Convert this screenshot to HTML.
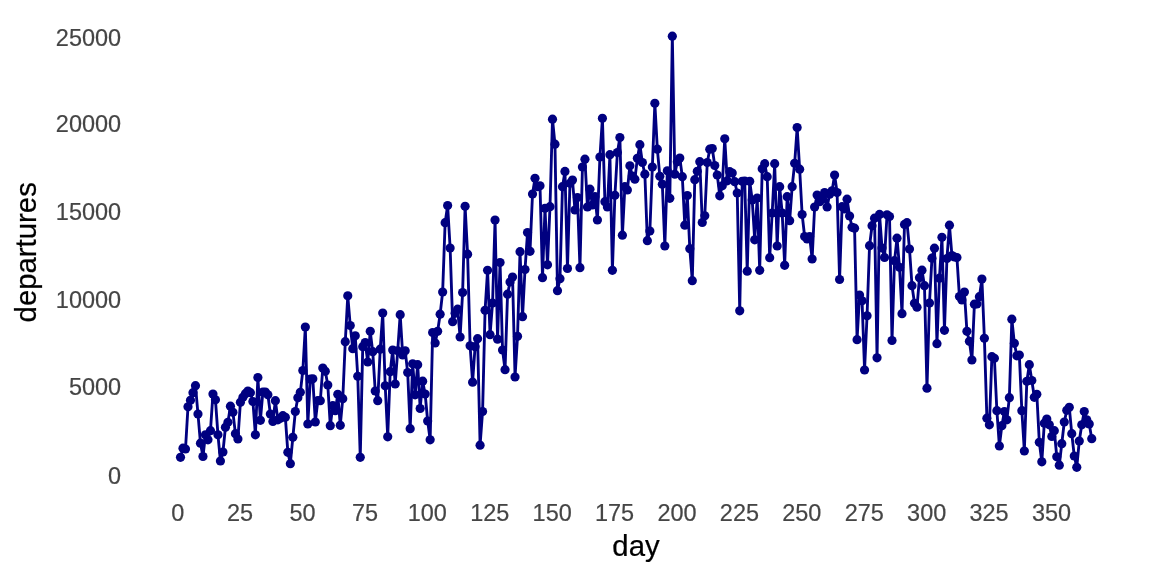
<!DOCTYPE html>
<html><head><meta charset="utf-8"><title>departures by day</title>
<style>
html,body{margin:0;padding:0;background:#fff;}
body{width:1152px;height:576px;overflow:hidden;}
svg{display:block;}
text{font-family:"Liberation Sans",Arial,sans-serif;}
.tick text{font-size:23.47px;fill:#454545;stroke:#454545;stroke-width:0.2px;}
.title{font-size:29.33px;fill:#000;stroke:#000;stroke-width:0.22px;}
</style></head><body>
<svg width="1152" height="576" viewBox="0 0 1152 576">
<rect width="1152" height="576" fill="#fff"/>
<g class="tick"><text x="121.1" y="483.60" text-anchor="end">0</text><text x="121.1" y="394.90" text-anchor="end">5000</text><text x="121.1" y="308.30" text-anchor="end">10000</text><text x="121.1" y="219.80" text-anchor="end">15000</text><text x="121.1" y="132.00" text-anchor="end">20000</text><text x="121.1" y="45.60" text-anchor="end">25000</text><text x="177.70" y="520.6" text-anchor="middle">0</text><text x="240.11" y="520.6" text-anchor="middle">25</text><text x="302.53" y="520.6" text-anchor="middle">50</text><text x="364.94" y="520.6" text-anchor="middle">75</text><text x="427.36" y="520.6" text-anchor="middle">100</text><text x="489.77" y="520.6" text-anchor="middle">125</text><text x="552.19" y="520.6" text-anchor="middle">150</text><text x="614.60" y="520.6" text-anchor="middle">175</text><text x="677.01" y="520.6" text-anchor="middle">200</text><text x="739.43" y="520.6" text-anchor="middle">225</text><text x="801.84" y="520.6" text-anchor="middle">250</text><text x="864.26" y="520.6" text-anchor="middle">275</text><text x="926.67" y="520.6" text-anchor="middle">300</text><text x="989.09" y="520.6" text-anchor="middle">325</text><text x="1051.50" y="520.6" text-anchor="middle">350</text></g>
<text class="title" x="636" y="555.5" text-anchor="middle">day</text>
<text class="title" transform="translate(36,252.3) rotate(-90)" text-anchor="middle">departures</text>
<polyline fill="none" stroke="#000080" stroke-width="2.85" stroke-linejoin="round" stroke-linecap="butt" points="180.50,457.30 182.99,448.20 185.49,449.00 187.99,406.80 190.48,400.30 192.98,392.70 195.48,385.70 197.97,414.00 200.47,443.20 202.97,456.50 205.46,434.80 207.96,439.80 210.46,430.70 212.95,394.00 215.45,399.80 217.95,434.80 220.44,461.00 222.94,452.00 225.43,427.30 227.93,422.30 230.43,406.20 232.92,412.30 235.42,433.70 237.92,439.00 240.41,402.30 242.91,397.30 245.41,393.70 247.90,391.00 250.40,392.70 252.90,401.50 255.39,434.80 257.89,377.50 260.39,420.30 262.88,392.00 265.38,392.00 267.88,394.80 270.37,414.00 272.87,421.50 275.37,400.70 277.86,419.80 280.36,418.20 282.86,415.70 285.35,417.30 287.85,452.30 290.35,463.70 292.84,437.30 295.34,411.50 297.84,397.70 300.33,392.30 302.83,370.50 305.33,327.00 307.82,424.00 310.32,379.20 312.81,378.80 315.31,422.00 317.81,400.70 320.30,400.70 322.80,368.00 325.30,371.30 327.79,385.00 330.29,425.70 332.79,405.70 335.28,410.70 337.78,394.30 340.28,425.30 342.77,398.70 345.27,341.70 347.77,295.80 350.26,325.50 352.76,348.70 355.26,335.80 357.75,376.30 360.25,457.30 362.75,346.70 365.24,342.50 367.74,362.00 370.24,331.30 372.73,351.70 375.23,391.00 377.73,400.70 380.22,349.20 382.72,313.00 385.22,385.80 387.71,436.80 390.21,371.70 392.71,350.00 395.20,384.00 397.70,350.80 400.19,314.70 402.69,355.00 405.19,350.80 407.68,372.50 410.18,428.70 412.68,363.80 415.17,394.80 417.67,364.70 420.17,408.50 422.66,381.20 425.16,394.00 427.66,421.00 430.15,439.80 432.65,332.50 435.15,343.00 437.64,331.30 440.14,314.20 442.64,292.00 445.13,222.70 447.63,205.50 450.13,248.00 452.62,321.70 455.12,313.30 457.62,309.20 460.11,337.00 462.61,292.50 465.11,206.30 467.60,254.20 470.10,345.80 472.60,382.20 475.09,346.70 477.59,338.70 480.09,445.20 482.58,411.50 485.08,310.30 487.57,270.30 490.07,334.70 492.57,303.00 495.06,220.00 497.56,339.20 500.06,262.50 502.55,350.00 505.05,369.70 507.55,294.20 510.04,282.00 512.54,277.00 515.04,377.00 517.53,336.30 520.03,251.70 522.53,316.70 525.02,269.50 527.52,232.50 530.02,251.30 532.51,194.00 535.01,178.30 537.51,186.70 540.00,185.80 542.50,277.70 545.00,208.30 547.49,264.80 549.99,206.70 552.49,119.20 554.98,144.20 557.48,290.70 559.98,278.70 562.47,186.70 564.97,171.40 567.47,268.50 569.96,183.30 572.46,180.00 574.95,210.00 577.45,197.50 579.95,267.70 582.44,167.00 584.94,159.20 587.44,207.00 589.93,189.20 592.43,205.00 594.93,196.70 597.42,220.00 599.92,157.00 602.42,118.30 604.91,201.70 607.41,207.00 609.91,154.70 612.40,270.30 614.90,195.30 617.40,152.50 619.89,137.50 622.39,235.20 624.89,186.70 627.38,190.00 629.88,165.80 632.38,176.00 634.87,179.20 637.37,158.30 639.87,144.70 642.36,162.50 644.86,174.20 647.36,240.70 649.85,231.00 652.35,167.00 654.85,103.30 657.34,149.20 659.84,176.30 662.33,184.20 664.83,246.00 667.33,170.80 669.82,198.30 672.32,36.20 674.82,174.20 677.31,161.70 679.81,158.00 682.31,176.70 684.80,225.20 687.30,195.50 689.80,248.70 692.29,280.70 694.79,179.70 697.29,171.30 699.78,161.70 702.28,222.50 704.78,215.80 707.27,162.50 709.77,149.20 712.27,148.50 714.76,165.50 717.26,175.00 719.76,195.80 722.25,185.80 724.75,138.80 727.25,180.80 729.74,171.70 732.24,173.00 734.74,181.70 737.23,193.00 739.73,310.80 742.23,181.30 744.72,181.00 747.22,271.20 749.71,181.30 752.21,200.00 754.71,239.80 757.20,198.00 759.70,270.30 762.20,168.80 764.69,163.70 767.19,176.70 769.69,257.70 772.18,213.00 774.68,163.70 777.18,246.00 779.67,186.70 782.17,213.00 784.67,265.30 787.16,196.70 789.66,220.70 792.16,186.70 794.65,163.30 797.15,127.50 799.65,169.20 802.14,214.50 804.64,236.50 807.14,239.00 809.63,236.50 812.13,259.00 814.63,207.00 817.12,195.00 819.62,201.70 822.12,199.00 824.61,192.50 827.11,207.00 829.61,194.20 832.10,190.80 834.60,175.00 837.09,192.50 839.59,279.50 842.09,206.70 844.58,209.00 847.08,199.20 849.58,216.00 852.07,227.30 854.57,228.20 857.07,339.70 859.56,295.00 862.06,300.80 864.56,370.00 867.05,315.80 869.55,245.70 872.05,225.70 874.54,218.20 877.04,357.80 879.54,214.40 882.03,248.00 884.53,257.50 887.03,214.80 889.52,216.50 892.02,340.50 894.52,260.70 897.01,238.20 899.51,267.30 902.01,313.70 904.50,224.40 907.00,222.70 909.50,249.00 911.99,285.70 914.49,303.30 916.99,307.20 919.48,277.70 921.98,270.20 924.47,285.70 926.97,388.20 929.47,303.00 931.96,258.20 934.46,248.20 936.96,343.70 939.45,278.20 941.95,237.30 944.45,330.30 946.94,258.50 949.44,225.20 951.94,255.50 954.43,257.00 956.93,257.60 959.43,296.60 961.92,300.00 964.42,292.00 966.92,331.30 969.41,341.30 971.91,360.00 974.41,304.20 976.90,304.00 979.40,296.70 981.90,279.00 984.39,338.30 986.89,418.20 989.39,424.80 991.88,356.70 994.38,358.30 996.88,410.70 999.37,446.00 1001.87,425.70 1004.37,411.50 1006.86,419.80 1009.36,397.70 1011.85,319.20 1014.35,343.30 1016.85,355.80 1019.34,355.00 1021.84,410.70 1024.34,451.00 1026.83,381.30 1029.33,364.70 1031.83,380.50 1034.32,397.30 1036.82,394.30 1039.32,442.30 1041.81,461.80 1044.31,423.20 1046.81,419.00 1049.30,424.80 1051.80,436.50 1054.30,430.70 1056.79,456.80 1059.29,465.20 1061.79,443.70 1064.28,422.00 1066.78,410.30 1069.28,407.30 1071.77,433.70 1074.27,456.00 1076.77,467.30 1079.26,441.00 1081.76,424.80 1084.26,411.50 1086.75,419.80 1089.25,424.00 1091.75,438.70"/>
<g fill="#000080"><circle cx="180.50" cy="457.30" r="4.6"/><circle cx="182.99" cy="448.20" r="4.6"/><circle cx="185.49" cy="449.00" r="4.6"/><circle cx="187.99" cy="406.80" r="4.6"/><circle cx="190.48" cy="400.30" r="4.6"/><circle cx="192.98" cy="392.70" r="4.6"/><circle cx="195.48" cy="385.70" r="4.6"/><circle cx="197.97" cy="414.00" r="4.6"/><circle cx="200.47" cy="443.20" r="4.6"/><circle cx="202.97" cy="456.50" r="4.6"/><circle cx="205.46" cy="434.80" r="4.6"/><circle cx="207.96" cy="439.80" r="4.6"/><circle cx="210.46" cy="430.70" r="4.6"/><circle cx="212.95" cy="394.00" r="4.6"/><circle cx="215.45" cy="399.80" r="4.6"/><circle cx="217.95" cy="434.80" r="4.6"/><circle cx="220.44" cy="461.00" r="4.6"/><circle cx="222.94" cy="452.00" r="4.6"/><circle cx="225.43" cy="427.30" r="4.6"/><circle cx="227.93" cy="422.30" r="4.6"/><circle cx="230.43" cy="406.20" r="4.6"/><circle cx="232.92" cy="412.30" r="4.6"/><circle cx="235.42" cy="433.70" r="4.6"/><circle cx="237.92" cy="439.00" r="4.6"/><circle cx="240.41" cy="402.30" r="4.6"/><circle cx="242.91" cy="397.30" r="4.6"/><circle cx="245.41" cy="393.70" r="4.6"/><circle cx="247.90" cy="391.00" r="4.6"/><circle cx="250.40" cy="392.70" r="4.6"/><circle cx="252.90" cy="401.50" r="4.6"/><circle cx="255.39" cy="434.80" r="4.6"/><circle cx="257.89" cy="377.50" r="4.6"/><circle cx="260.39" cy="420.30" r="4.6"/><circle cx="262.88" cy="392.00" r="4.6"/><circle cx="265.38" cy="392.00" r="4.6"/><circle cx="267.88" cy="394.80" r="4.6"/><circle cx="270.37" cy="414.00" r="4.6"/><circle cx="272.87" cy="421.50" r="4.6"/><circle cx="275.37" cy="400.70" r="4.6"/><circle cx="277.86" cy="419.80" r="4.6"/><circle cx="280.36" cy="418.20" r="4.6"/><circle cx="282.86" cy="415.70" r="4.6"/><circle cx="285.35" cy="417.30" r="4.6"/><circle cx="287.85" cy="452.30" r="4.6"/><circle cx="290.35" cy="463.70" r="4.6"/><circle cx="292.84" cy="437.30" r="4.6"/><circle cx="295.34" cy="411.50" r="4.6"/><circle cx="297.84" cy="397.70" r="4.6"/><circle cx="300.33" cy="392.30" r="4.6"/><circle cx="302.83" cy="370.50" r="4.6"/><circle cx="305.33" cy="327.00" r="4.6"/><circle cx="307.82" cy="424.00" r="4.6"/><circle cx="310.32" cy="379.20" r="4.6"/><circle cx="312.81" cy="378.80" r="4.6"/><circle cx="315.31" cy="422.00" r="4.6"/><circle cx="317.81" cy="400.70" r="4.6"/><circle cx="320.30" cy="400.70" r="4.6"/><circle cx="322.80" cy="368.00" r="4.6"/><circle cx="325.30" cy="371.30" r="4.6"/><circle cx="327.79" cy="385.00" r="4.6"/><circle cx="330.29" cy="425.70" r="4.6"/><circle cx="332.79" cy="405.70" r="4.6"/><circle cx="335.28" cy="410.70" r="4.6"/><circle cx="337.78" cy="394.30" r="4.6"/><circle cx="340.28" cy="425.30" r="4.6"/><circle cx="342.77" cy="398.70" r="4.6"/><circle cx="345.27" cy="341.70" r="4.6"/><circle cx="347.77" cy="295.80" r="4.6"/><circle cx="350.26" cy="325.50" r="4.6"/><circle cx="352.76" cy="348.70" r="4.6"/><circle cx="355.26" cy="335.80" r="4.6"/><circle cx="357.75" cy="376.30" r="4.6"/><circle cx="360.25" cy="457.30" r="4.6"/><circle cx="362.75" cy="346.70" r="4.6"/><circle cx="365.24" cy="342.50" r="4.6"/><circle cx="367.74" cy="362.00" r="4.6"/><circle cx="370.24" cy="331.30" r="4.6"/><circle cx="372.73" cy="351.70" r="4.6"/><circle cx="375.23" cy="391.00" r="4.6"/><circle cx="377.73" cy="400.70" r="4.6"/><circle cx="380.22" cy="349.20" r="4.6"/><circle cx="382.72" cy="313.00" r="4.6"/><circle cx="385.22" cy="385.80" r="4.6"/><circle cx="387.71" cy="436.80" r="4.6"/><circle cx="390.21" cy="371.70" r="4.6"/><circle cx="392.71" cy="350.00" r="4.6"/><circle cx="395.20" cy="384.00" r="4.6"/><circle cx="397.70" cy="350.80" r="4.6"/><circle cx="400.19" cy="314.70" r="4.6"/><circle cx="402.69" cy="355.00" r="4.6"/><circle cx="405.19" cy="350.80" r="4.6"/><circle cx="407.68" cy="372.50" r="4.6"/><circle cx="410.18" cy="428.70" r="4.6"/><circle cx="412.68" cy="363.80" r="4.6"/><circle cx="415.17" cy="394.80" r="4.6"/><circle cx="417.67" cy="364.70" r="4.6"/><circle cx="420.17" cy="408.50" r="4.6"/><circle cx="422.66" cy="381.20" r="4.6"/><circle cx="425.16" cy="394.00" r="4.6"/><circle cx="427.66" cy="421.00" r="4.6"/><circle cx="430.15" cy="439.80" r="4.6"/><circle cx="432.65" cy="332.50" r="4.6"/><circle cx="435.15" cy="343.00" r="4.6"/><circle cx="437.64" cy="331.30" r="4.6"/><circle cx="440.14" cy="314.20" r="4.6"/><circle cx="442.64" cy="292.00" r="4.6"/><circle cx="445.13" cy="222.70" r="4.6"/><circle cx="447.63" cy="205.50" r="4.6"/><circle cx="450.13" cy="248.00" r="4.6"/><circle cx="452.62" cy="321.70" r="4.6"/><circle cx="455.12" cy="313.30" r="4.6"/><circle cx="457.62" cy="309.20" r="4.6"/><circle cx="460.11" cy="337.00" r="4.6"/><circle cx="462.61" cy="292.50" r="4.6"/><circle cx="465.11" cy="206.30" r="4.6"/><circle cx="467.60" cy="254.20" r="4.6"/><circle cx="470.10" cy="345.80" r="4.6"/><circle cx="472.60" cy="382.20" r="4.6"/><circle cx="475.09" cy="346.70" r="4.6"/><circle cx="477.59" cy="338.70" r="4.6"/><circle cx="480.09" cy="445.20" r="4.6"/><circle cx="482.58" cy="411.50" r="4.6"/><circle cx="485.08" cy="310.30" r="4.6"/><circle cx="487.57" cy="270.30" r="4.6"/><circle cx="490.07" cy="334.70" r="4.6"/><circle cx="492.57" cy="303.00" r="4.6"/><circle cx="495.06" cy="220.00" r="4.6"/><circle cx="497.56" cy="339.20" r="4.6"/><circle cx="500.06" cy="262.50" r="4.6"/><circle cx="502.55" cy="350.00" r="4.6"/><circle cx="505.05" cy="369.70" r="4.6"/><circle cx="507.55" cy="294.20" r="4.6"/><circle cx="510.04" cy="282.00" r="4.6"/><circle cx="512.54" cy="277.00" r="4.6"/><circle cx="515.04" cy="377.00" r="4.6"/><circle cx="517.53" cy="336.30" r="4.6"/><circle cx="520.03" cy="251.70" r="4.6"/><circle cx="522.53" cy="316.70" r="4.6"/><circle cx="525.02" cy="269.50" r="4.6"/><circle cx="527.52" cy="232.50" r="4.6"/><circle cx="530.02" cy="251.30" r="4.6"/><circle cx="532.51" cy="194.00" r="4.6"/><circle cx="535.01" cy="178.30" r="4.6"/><circle cx="537.51" cy="186.70" r="4.6"/><circle cx="540.00" cy="185.80" r="4.6"/><circle cx="542.50" cy="277.70" r="4.6"/><circle cx="545.00" cy="208.30" r="4.6"/><circle cx="547.49" cy="264.80" r="4.6"/><circle cx="549.99" cy="206.70" r="4.6"/><circle cx="552.49" cy="119.20" r="4.6"/><circle cx="554.98" cy="144.20" r="4.6"/><circle cx="557.48" cy="290.70" r="4.6"/><circle cx="559.98" cy="278.70" r="4.6"/><circle cx="562.47" cy="186.70" r="4.6"/><circle cx="564.97" cy="171.40" r="4.6"/><circle cx="567.47" cy="268.50" r="4.6"/><circle cx="569.96" cy="183.30" r="4.6"/><circle cx="572.46" cy="180.00" r="4.6"/><circle cx="574.95" cy="210.00" r="4.6"/><circle cx="577.45" cy="197.50" r="4.6"/><circle cx="579.95" cy="267.70" r="4.6"/><circle cx="582.44" cy="167.00" r="4.6"/><circle cx="584.94" cy="159.20" r="4.6"/><circle cx="587.44" cy="207.00" r="4.6"/><circle cx="589.93" cy="189.20" r="4.6"/><circle cx="592.43" cy="205.00" r="4.6"/><circle cx="594.93" cy="196.70" r="4.6"/><circle cx="597.42" cy="220.00" r="4.6"/><circle cx="599.92" cy="157.00" r="4.6"/><circle cx="602.42" cy="118.30" r="4.6"/><circle cx="604.91" cy="201.70" r="4.6"/><circle cx="607.41" cy="207.00" r="4.6"/><circle cx="609.91" cy="154.70" r="4.6"/><circle cx="612.40" cy="270.30" r="4.6"/><circle cx="614.90" cy="195.30" r="4.6"/><circle cx="617.40" cy="152.50" r="4.6"/><circle cx="619.89" cy="137.50" r="4.6"/><circle cx="622.39" cy="235.20" r="4.6"/><circle cx="624.89" cy="186.70" r="4.6"/><circle cx="627.38" cy="190.00" r="4.6"/><circle cx="629.88" cy="165.80" r="4.6"/><circle cx="632.38" cy="176.00" r="4.6"/><circle cx="634.87" cy="179.20" r="4.6"/><circle cx="637.37" cy="158.30" r="4.6"/><circle cx="639.87" cy="144.70" r="4.6"/><circle cx="642.36" cy="162.50" r="4.6"/><circle cx="644.86" cy="174.20" r="4.6"/><circle cx="647.36" cy="240.70" r="4.6"/><circle cx="649.85" cy="231.00" r="4.6"/><circle cx="652.35" cy="167.00" r="4.6"/><circle cx="654.85" cy="103.30" r="4.6"/><circle cx="657.34" cy="149.20" r="4.6"/><circle cx="659.84" cy="176.30" r="4.6"/><circle cx="662.33" cy="184.20" r="4.6"/><circle cx="664.83" cy="246.00" r="4.6"/><circle cx="667.33" cy="170.80" r="4.6"/><circle cx="669.82" cy="198.30" r="4.6"/><circle cx="672.32" cy="36.20" r="4.6"/><circle cx="674.82" cy="174.20" r="4.6"/><circle cx="677.31" cy="161.70" r="4.6"/><circle cx="679.81" cy="158.00" r="4.6"/><circle cx="682.31" cy="176.70" r="4.6"/><circle cx="684.80" cy="225.20" r="4.6"/><circle cx="687.30" cy="195.50" r="4.6"/><circle cx="689.80" cy="248.70" r="4.6"/><circle cx="692.29" cy="280.70" r="4.6"/><circle cx="694.79" cy="179.70" r="4.6"/><circle cx="697.29" cy="171.30" r="4.6"/><circle cx="699.78" cy="161.70" r="4.6"/><circle cx="702.28" cy="222.50" r="4.6"/><circle cx="704.78" cy="215.80" r="4.6"/><circle cx="707.27" cy="162.50" r="4.6"/><circle cx="709.77" cy="149.20" r="4.6"/><circle cx="712.27" cy="148.50" r="4.6"/><circle cx="714.76" cy="165.50" r="4.6"/><circle cx="717.26" cy="175.00" r="4.6"/><circle cx="719.76" cy="195.80" r="4.6"/><circle cx="722.25" cy="185.80" r="4.6"/><circle cx="724.75" cy="138.80" r="4.6"/><circle cx="727.25" cy="180.80" r="4.6"/><circle cx="729.74" cy="171.70" r="4.6"/><circle cx="732.24" cy="173.00" r="4.6"/><circle cx="734.74" cy="181.70" r="4.6"/><circle cx="737.23" cy="193.00" r="4.6"/><circle cx="739.73" cy="310.80" r="4.6"/><circle cx="742.23" cy="181.30" r="4.6"/><circle cx="744.72" cy="181.00" r="4.6"/><circle cx="747.22" cy="271.20" r="4.6"/><circle cx="749.71" cy="181.30" r="4.6"/><circle cx="752.21" cy="200.00" r="4.6"/><circle cx="754.71" cy="239.80" r="4.6"/><circle cx="757.20" cy="198.00" r="4.6"/><circle cx="759.70" cy="270.30" r="4.6"/><circle cx="762.20" cy="168.80" r="4.6"/><circle cx="764.69" cy="163.70" r="4.6"/><circle cx="767.19" cy="176.70" r="4.6"/><circle cx="769.69" cy="257.70" r="4.6"/><circle cx="772.18" cy="213.00" r="4.6"/><circle cx="774.68" cy="163.70" r="4.6"/><circle cx="777.18" cy="246.00" r="4.6"/><circle cx="779.67" cy="186.70" r="4.6"/><circle cx="782.17" cy="213.00" r="4.6"/><circle cx="784.67" cy="265.30" r="4.6"/><circle cx="787.16" cy="196.70" r="4.6"/><circle cx="789.66" cy="220.70" r="4.6"/><circle cx="792.16" cy="186.70" r="4.6"/><circle cx="794.65" cy="163.30" r="4.6"/><circle cx="797.15" cy="127.50" r="4.6"/><circle cx="799.65" cy="169.20" r="4.6"/><circle cx="802.14" cy="214.50" r="4.6"/><circle cx="804.64" cy="236.50" r="4.6"/><circle cx="807.14" cy="239.00" r="4.6"/><circle cx="809.63" cy="236.50" r="4.6"/><circle cx="812.13" cy="259.00" r="4.6"/><circle cx="814.63" cy="207.00" r="4.6"/><circle cx="817.12" cy="195.00" r="4.6"/><circle cx="819.62" cy="201.70" r="4.6"/><circle cx="822.12" cy="199.00" r="4.6"/><circle cx="824.61" cy="192.50" r="4.6"/><circle cx="827.11" cy="207.00" r="4.6"/><circle cx="829.61" cy="194.20" r="4.6"/><circle cx="832.10" cy="190.80" r="4.6"/><circle cx="834.60" cy="175.00" r="4.6"/><circle cx="837.09" cy="192.50" r="4.6"/><circle cx="839.59" cy="279.50" r="4.6"/><circle cx="842.09" cy="206.70" r="4.6"/><circle cx="844.58" cy="209.00" r="4.6"/><circle cx="847.08" cy="199.20" r="4.6"/><circle cx="849.58" cy="216.00" r="4.6"/><circle cx="852.07" cy="227.30" r="4.6"/><circle cx="854.57" cy="228.20" r="4.6"/><circle cx="857.07" cy="339.70" r="4.6"/><circle cx="859.56" cy="295.00" r="4.6"/><circle cx="862.06" cy="300.80" r="4.6"/><circle cx="864.56" cy="370.00" r="4.6"/><circle cx="867.05" cy="315.80" r="4.6"/><circle cx="869.55" cy="245.70" r="4.6"/><circle cx="872.05" cy="225.70" r="4.6"/><circle cx="874.54" cy="218.20" r="4.6"/><circle cx="877.04" cy="357.80" r="4.6"/><circle cx="879.54" cy="214.40" r="4.6"/><circle cx="882.03" cy="248.00" r="4.6"/><circle cx="884.53" cy="257.50" r="4.6"/><circle cx="887.03" cy="214.80" r="4.6"/><circle cx="889.52" cy="216.50" r="4.6"/><circle cx="892.02" cy="340.50" r="4.6"/><circle cx="894.52" cy="260.70" r="4.6"/><circle cx="897.01" cy="238.20" r="4.6"/><circle cx="899.51" cy="267.30" r="4.6"/><circle cx="902.01" cy="313.70" r="4.6"/><circle cx="904.50" cy="224.40" r="4.6"/><circle cx="907.00" cy="222.70" r="4.6"/><circle cx="909.50" cy="249.00" r="4.6"/><circle cx="911.99" cy="285.70" r="4.6"/><circle cx="914.49" cy="303.30" r="4.6"/><circle cx="916.99" cy="307.20" r="4.6"/><circle cx="919.48" cy="277.70" r="4.6"/><circle cx="921.98" cy="270.20" r="4.6"/><circle cx="924.47" cy="285.70" r="4.6"/><circle cx="926.97" cy="388.20" r="4.6"/><circle cx="929.47" cy="303.00" r="4.6"/><circle cx="931.96" cy="258.20" r="4.6"/><circle cx="934.46" cy="248.20" r="4.6"/><circle cx="936.96" cy="343.70" r="4.6"/><circle cx="939.45" cy="278.20" r="4.6"/><circle cx="941.95" cy="237.30" r="4.6"/><circle cx="944.45" cy="330.30" r="4.6"/><circle cx="946.94" cy="258.50" r="4.6"/><circle cx="949.44" cy="225.20" r="4.6"/><circle cx="951.94" cy="255.50" r="4.6"/><circle cx="954.43" cy="257.00" r="4.6"/><circle cx="956.93" cy="257.60" r="4.6"/><circle cx="959.43" cy="296.60" r="4.6"/><circle cx="961.92" cy="300.00" r="4.6"/><circle cx="964.42" cy="292.00" r="4.6"/><circle cx="966.92" cy="331.30" r="4.6"/><circle cx="969.41" cy="341.30" r="4.6"/><circle cx="971.91" cy="360.00" r="4.6"/><circle cx="974.41" cy="304.20" r="4.6"/><circle cx="976.90" cy="304.00" r="4.6"/><circle cx="979.40" cy="296.70" r="4.6"/><circle cx="981.90" cy="279.00" r="4.6"/><circle cx="984.39" cy="338.30" r="4.6"/><circle cx="986.89" cy="418.20" r="4.6"/><circle cx="989.39" cy="424.80" r="4.6"/><circle cx="991.88" cy="356.70" r="4.6"/><circle cx="994.38" cy="358.30" r="4.6"/><circle cx="996.88" cy="410.70" r="4.6"/><circle cx="999.37" cy="446.00" r="4.6"/><circle cx="1001.87" cy="425.70" r="4.6"/><circle cx="1004.37" cy="411.50" r="4.6"/><circle cx="1006.86" cy="419.80" r="4.6"/><circle cx="1009.36" cy="397.70" r="4.6"/><circle cx="1011.85" cy="319.20" r="4.6"/><circle cx="1014.35" cy="343.30" r="4.6"/><circle cx="1016.85" cy="355.80" r="4.6"/><circle cx="1019.34" cy="355.00" r="4.6"/><circle cx="1021.84" cy="410.70" r="4.6"/><circle cx="1024.34" cy="451.00" r="4.6"/><circle cx="1026.83" cy="381.30" r="4.6"/><circle cx="1029.33" cy="364.70" r="4.6"/><circle cx="1031.83" cy="380.50" r="4.6"/><circle cx="1034.32" cy="397.30" r="4.6"/><circle cx="1036.82" cy="394.30" r="4.6"/><circle cx="1039.32" cy="442.30" r="4.6"/><circle cx="1041.81" cy="461.80" r="4.6"/><circle cx="1044.31" cy="423.20" r="4.6"/><circle cx="1046.81" cy="419.00" r="4.6"/><circle cx="1049.30" cy="424.80" r="4.6"/><circle cx="1051.80" cy="436.50" r="4.6"/><circle cx="1054.30" cy="430.70" r="4.6"/><circle cx="1056.79" cy="456.80" r="4.6"/><circle cx="1059.29" cy="465.20" r="4.6"/><circle cx="1061.79" cy="443.70" r="4.6"/><circle cx="1064.28" cy="422.00" r="4.6"/><circle cx="1066.78" cy="410.30" r="4.6"/><circle cx="1069.28" cy="407.30" r="4.6"/><circle cx="1071.77" cy="433.70" r="4.6"/><circle cx="1074.27" cy="456.00" r="4.6"/><circle cx="1076.77" cy="467.30" r="4.6"/><circle cx="1079.26" cy="441.00" r="4.6"/><circle cx="1081.76" cy="424.80" r="4.6"/><circle cx="1084.26" cy="411.50" r="4.6"/><circle cx="1086.75" cy="419.80" r="4.6"/><circle cx="1089.25" cy="424.00" r="4.6"/><circle cx="1091.75" cy="438.70" r="4.6"/></g>
</svg>
</body></html>
